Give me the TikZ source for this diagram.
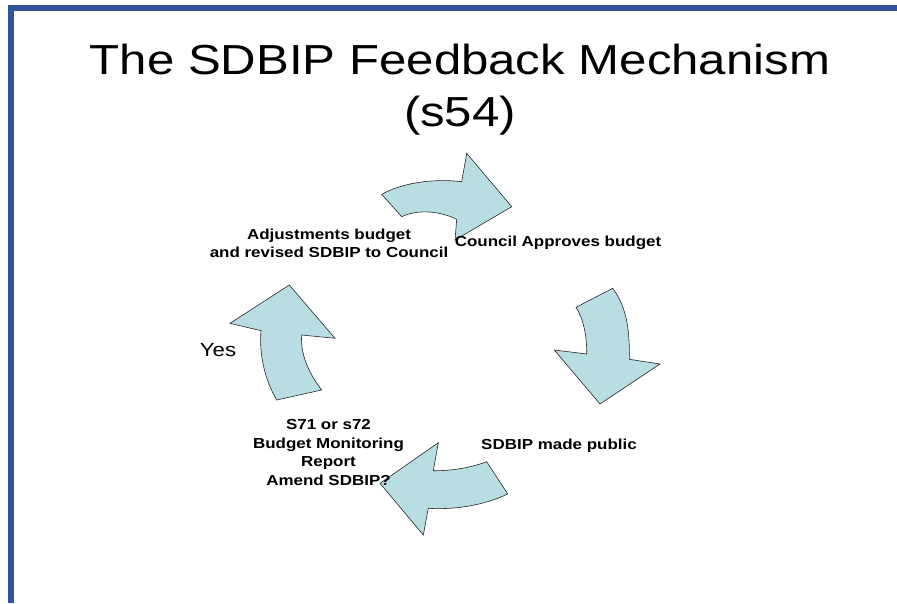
\documentclass[tikz,border=0pt]{standalone}
\usepackage{fontspec}
\setmainfont{Liberation Sans}

\definecolor{slideblue}{RGB}{47,85,151}
\definecolor{arrowfill}{RGB}{184,222,228}

\tikzset{
	cyclearrow/.style={draw=black!85, line width=0.6pt, fill=arrowfill, line join=miter},
	wide/.style={xscale=1.17, transform shape},
	titletext/.style={wide, inner sep=0pt, anchor=base, font=\fontsize{42}{50}\selectfont},
	steplabel/.style={wide, inner sep=0pt, align=center, font=\bfseries\fontsize{14.5}{18.5}\selectfont},
	answer/.style={wide, inner sep=0pt, font=\fontsize{19}{22}\selectfont}
}

\begin{document}
\begin{tikzpicture}[x=1pt,y=-1pt]
		\useasboundingbox (0,0) rectangle (897,603);
		% slide frame
		\fill [slideblue] (8,5) rectangle (897,11);
		\fill [slideblue] (8,5) rectangle (14,603);
		%
		\node [titletext] (title) at (460,74) {The SDBIP Feedback Mechanism};
		\node [titletext] (section) at (460,126) {(s54)};
		%
		\begin{scope}
			% top arrow
			\draw [cyclearrow] (381.7,194.3) .. controls (400,184) and (430,178) .. (461.7,181.7)
				-- (466.7,153.3) -- (511.7,206.7) -- (455,240) -- (456.7,219.3)
				.. controls (440,211) and (418,209) .. (401.7,216.7) -- cycle;
			% right arrow
			\draw [cyclearrow] (576,307.3) -- (612.7,288.3)
				.. controls (625,305) and (630,325) .. (629.3,359.3)
				-- (660,364) -- (600,404) -- (554.3,350) -- (586.7,354)
				.. controls (587,335) and (583,318) .. (576,307.3) -- cycle;
			% bottom arrow
			\draw [cyclearrow] (486.7,461.7) .. controls (470,468) and (450,471) .. (433.3,470.7)
				-- (438.3,442.7) -- (380,483.3) -- (423.3,535) -- (428.3,508.3)
				.. controls (455,510) and (485,505) .. (507.7,494) -- cycle;
			% left arrow
			\draw [cyclearrow] (289.3,285) -- (335,338.3) -- (301.7,335)
				.. controls (300,355) and (310,375) .. (321.7,390) -- (276.7,400)
				.. controls (265,380) and (259,355) .. (261,330.7) -- (230,323.3) -- cycle;
		\end{scope}
		%
		\node [steplabel] (adjust) at (329,243.5) {Adjustments budget\\and revised SDBIP to Council};
		\node [steplabel] (approve) at (558,243) {Council Approves budget};
		\node [steplabel] (public) at (559,446) {SDBIP made public};
		\node [steplabel] (monitor) at (328.5,452.5) {S71 or s72\\Budget Monitoring\\Report\\Amend SDBIP?};
		\node [answer] (yes) at (218,350) {Yes};
	\end{tikzpicture}
\end{document}
